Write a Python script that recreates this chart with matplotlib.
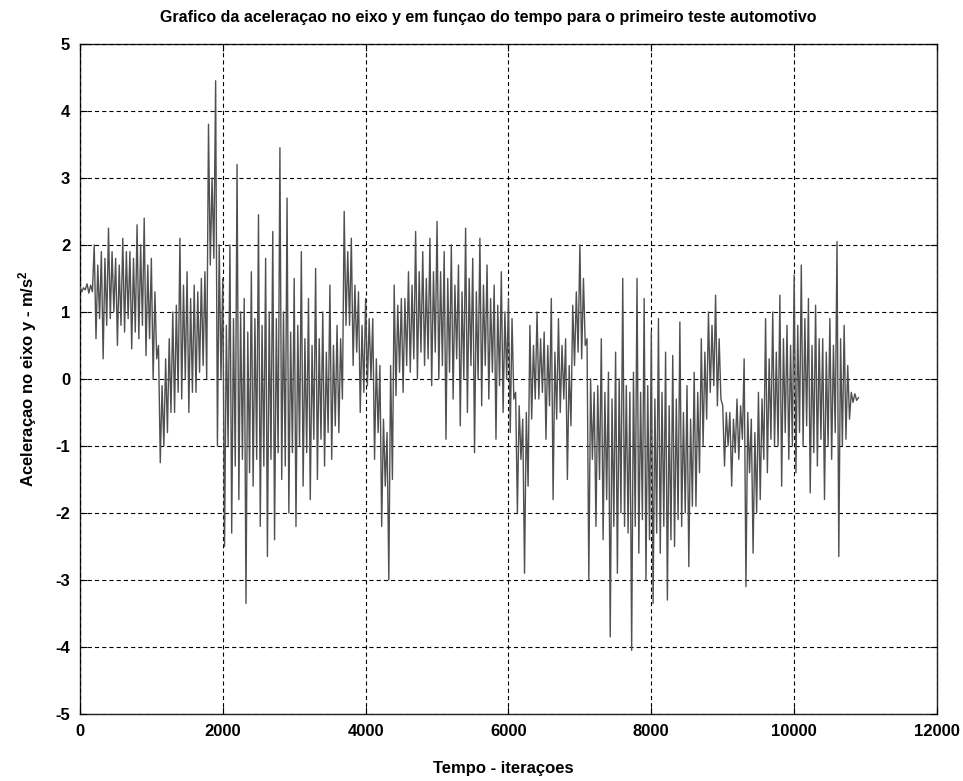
import numpy as np
import matplotlib
matplotlib.use("Agg")
import matplotlib.pyplot as plt

# ---- data ----
# outer swings of the signal: one value every 50 iterations (peak, trough, ...)
outer_step = 50
accel_outer = [
    1.38, 1.30, 1.42, 1.28, 2.0, 0.6, 1.9, 0.3, 2.25, 0.9,
    1.8, 0.5, 2.1, 0.7, 1.9, 0.45, 2.3, 0.6, 2.4, 0.35,
    1.8, 0.0, 0.5, -1.25, 0.3, -0.8, 1.0, -0.5, 2.1, -0.3,
    1.6, -0.5, 1.4, -0.2, 1.5, 0.2, 3.8, 1.7, 4.45, -1.0,
    1.5, -2.5, 2.0, -2.3, 3.2, -1.8, 1.2, -3.35, 1.6, -1.6,
    2.45, -2.2, 1.8, -2.65, 2.2, -2.4, 3.45, -1.5, 2.7, -2.0,
    1.5, -2.2, 1.9, -1.6, 1.2, -1.8, 1.65, -1.5, 1.0, -1.3,
    1.4, -1.2, 0.8, -0.8, 2.5, 0.8, 2.1, 0.2, 1.3, -0.5,
    1.2, -0.1, 0.9, -1.2, 0.2, -2.2, -0.8, -3.0, 1.4, -0.25,
    1.2, -0.2, 1.6, 0.1, 2.2, 0.0, 1.9, 0.2, 2.1, -0.1,
    2.35, 0.0, 1.9, -0.9, 2.0, -0.3, 1.7, -0.7, 2.25, -0.5,
    1.8, -1.1, 2.1, -0.4, 1.7, -0.3, 1.4, -0.9, 1.6, -0.5,
    1.2, -0.8, -0.2, -2.0, -0.6, -2.9, 0.8, -0.6, 1.0, -0.3,
    0.7, -0.9, 1.2, -1.8, 0.9, -0.5, 0.6, -1.5, 1.1, 0.2,
    2.0, 0.3, 0.6, -3.0, -0.2, -2.2, 0.6, -2.4, 0.1, -3.85,
    0.4, -2.9, 1.5, -2.2, -0.2, -4.05, 1.5, -2.6, 1.2, -3.0,
    0.7, -3.35, 0.9, -2.6, 0.4, -3.3, 0.35, -2.5, 0.85, -2.2,
    -0.1, -2.8, 0.1, -1.9, 0.6, -1.0, 1.0, -0.2, 1.25, -0.4,
    -0.4, -1.3, -0.5, -1.6, -0.3, -1.2, 0.3, -3.1, -0.6, -2.6,
    -0.2, -1.8, 0.9, -1.4, 1.0, -1.0, 1.25, -1.6, 0.8, -1.2,
    1.55, -1.4, 1.7, -1.0, 1.2, -1.7, 1.1, -1.3, 0.6, -1.8,
    0.9, -1.2, 2.05, -2.65, 0.8, -0.9, -0.2, -0.35, -0.28,
]
# inner (dense core) swings: one low and one high per 100 iterations
core_lo = [
    1.33, 1.30, 0.9, 0.8, 1.0, 0.8, 0.9, 0.7, 0.8, 0.6,
    0.3, -1.0, -0.5, -0.2, 0.0, -0.2, 0.1, 0.0, 1.8, 0.0,
    -1.0, -1.3, -1.2, -1.4, -1.2, -1.3, -1.2, -1.1, -1.3, -1.1,
    -1.0, -1.1, -0.9, -0.9, -0.8, -0.7, -0.3, 0.8, 0.4, -0.2,
    0.0, -0.8, -1.6, -1.5, 0.1, 0.2, 0.3, 0.4, 0.3, 0.4,
    0.2, 0.1, 0.3, 0.0, 0.2, 0.0, 0.2, 0.1, -0.1, 0.0,
    -0.3, -1.2, -1.6, -0.3, -0.2, -0.4, -0.6, -0.3, -0.7, 0.4,
    0.5, -1.2, -1.5, -1.8, -2.2, -2.0, -2.3, -2.2, -2.1, -2.4,
    -2.3, -2.2, -2.4, -2.1, -2.0, -1.9, -1.4, -0.6, -0.1, -0.3,
    -1.0, -1.1, -0.9, -1.4, -2.0, -1.2, -0.9, -1.0, -0.8, -1.0,
    -0.8, -0.7, -1.1, -0.9, -1.0, -0.8, -1.0, -0.6, -0.32,
]
core_hi = [
    1.36, 1.40, 1.7, 1.8, 1.9, 1.7, 1.9, 1.8, 2.0, 1.7,
    1.3, -0.1, 0.6, 1.1, 1.4, 1.2, 1.3, 1.6, 3.0, 2.0,
    0.8, 0.9, 1.0, 0.7, 0.9, 0.8, 1.0, 0.9, 1.0, 0.7,
    0.8, 0.6, 0.5, 0.6, 0.4, 0.5, 0.6, 1.9, 1.4, 0.8,
    0.9, 0.3, -0.6, 0.2, 1.1, 1.2, 1.4, 1.6, 1.5, 1.6,
    1.6, 1.5, 1.4, 1.3, 1.5, 1.3, 1.4, 1.2, 1.1, 1.0,
    0.9, -0.4, -0.5, 0.5, 0.6, 0.5, 0.4, 0.5, 0.2, 1.3,
    1.5, 0.0, -0.1, -0.2, -0.3, 0.0, -0.1, 0.1, -0.2, -0.1,
    -0.3, -0.2, -0.4, -0.3, -0.5, -0.6, -0.2, 0.4, 0.8, 0.6,
    -0.5, -0.6, -0.4, -0.5, -0.8, -0.3, 0.3, 0.4, 0.6, 0.5,
    0.8, 0.9, 0.5, 0.6, 0.4, 0.5, 0.6, 0.2, -0.22,
]

xticks = [0, 2000, 4000, 6000, 8000, 10000, 12000]
yticks = [-5, -4, -3, -2, -1, 0, 1, 2, 3, 4, 5]

title = "Grafico da aceleraçao no eixo y em funçao do tempo para o primeiro teste automotivo"
xlabel = "Tempo - iteraçoes"
ylabel = "Aceleraçao no eixo y - m/s$^2$"

# ---- assemble the sample sequence: outer peak, outer trough, core high, core low ----
values = []
for k in range(len(core_lo)):
    values += [accel_outer[2 * k], accel_outer[2 * k + 1], core_hi[k], core_lo[k]]
values += accel_outer[2 * len(core_lo):]
iterations = np.arange(len(values)) * (outer_step / 2)

# ---- style ----
plt.rcParams["font.family"] = ["Liberation Sans", "DejaVu Sans"]
plt.rcParams["mathtext.fontset"] = "custom"
plt.rcParams["mathtext.rm"] = "Liberation Sans:bold"
plt.rcParams["mathtext.it"] = "Liberation Sans:bold"
plt.rcParams["mathtext.default"] = "rm"
plt.rcParams["lines.scale_dashes"] = False

fig = plt.figure(figsize=(9.63, 7.81), dpi=100)
ax = fig.add_axes([0.083, 0.0858, 0.890, 0.858])

ax.plot(iterations, values, color="#505050", lw=1.0, zorder=3)

ax.set_xlim(0, 12000)
ax.set_ylim(-5, 5)
ax.set_xticks(xticks)
ax.set_yticks(yticks)
ax.set_xticklabels([str(t) for t in xticks], fontsize=12, fontweight="bold")
ax.set_yticklabels([str(t) for t in yticks], fontsize=12, fontweight="bold")
ax.tick_params(direction="in", top=True, right=True, length=5, width=0.8, pad=7)
ax.grid(True, color="black", linestyle=(0, (3.0, 2.2)), linewidth=0.8, zorder=4)
ax.set_axisbelow(False)
for s in ax.spines.values():
    s.set_linewidth(1.0)
    s.set_color("#222222")

ax.set_title(title, fontsize=11.5, fontweight="bold", pad=16, x=0.476)
ax.set_xlabel(xlabel, fontsize=12, fontweight="bold", labelpad=16, x=0.494)
ax.set_ylabel(ylabel, fontsize=12, fontweight="bold", labelpad=12)

fig.savefig("out.png", dpi=100)
